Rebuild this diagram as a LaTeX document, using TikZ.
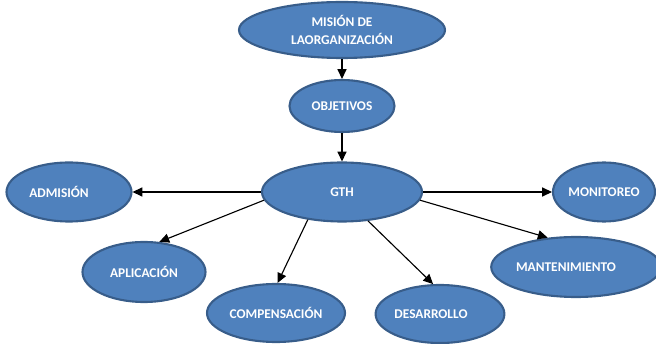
\documentclass[tikz,border=0pt]{standalone}
\usepackage{fontspec}
\setmainfont{Carlito}
\usepackage{xcolor}
\usetikzlibrary{shapes.geometric,arrows.meta}
\definecolor{azul}{HTML}{4F81BD}
\definecolor{azulborde}{HTML}{385D8A}

\begin{document}
\begin{tikzpicture}[
  burbuja/.style={ellipse, fill=azul, draw=azulborde, line width=1.5pt, inner sep=0pt,
    text=white, align=center, font=\bfseries\fontsize{9.5}{12.5}\selectfont},
  flecha/.style={-{Triangle[length=7pt,width=6.5pt]}, line width=0.8pt, black}
]

\useasboundingbox (0,0) rectangle (16.4,8.575);

\node[burbuja, minimum width=5.15cm, minimum height=1.4cm] (mision) at (8.55,7.825) {MISIÓN DE\\LAORGANIZACIÓN};
\node[burbuja, minimum width=2.625cm, minimum height=1.3cm] (objetivos) at (8.55,5.925) {OBJETIVOS};
\node[burbuja, minimum width=4cm, minimum height=1.475cm] (gth) at (8.55,3.775) {GTH};

\node[burbuja, minimum width=3.125cm, minimum height=1.475cm] (admision) at (1.725,3.775) {ADMISIÓN\hspace*{0.5cm}};
\node[burbuja, minimum width=3.075cm, minimum height=1.5cm] (aplicacion) at (3.6,1.775) {APLICACIÓN};
\node[burbuja, minimum width=3.45cm, minimum height=1.45cm] (compensacion) at (6.9,0.75) {COMPENSACIÓN};
\node[burbuja, minimum width=3.075cm, minimum height=1.45cm] (desarrollo) at (11,0.725) {DESARROLLO\hspace*{0.45cm}};
\node[burbuja, minimum width=3.55cm, minimum height=1.5cm] (mantenimiento) at (14.4,1.9) {MANTENIMIENTO\hspace*{0.5cm}};
\node[burbuja, minimum width=2.55cm, minimum height=1.475cm] (monitoreo) at (15.1,3.775) {MONITOREO};

% cadena vertical
\draw[flecha] (mision.south) -- (objetivos.north);
\draw[flecha] (objetivos.south) -- (gth.north);

% ramas de GTH
\draw[flecha] (gth.west) -- (admision.east);
\draw[flecha] (gth.186) -- (aplicacion.63);
\draw[flecha] (gth.219) -- (compensacion.87);
\draw[flecha] (gth.-48) -- (desarrollo.103);
\draw[flecha] (gth.-6) -- (mantenimiento.134);
\draw[flecha] (gth.east) -- (monitoreo.west);

\end{tikzpicture}
\end{document}
